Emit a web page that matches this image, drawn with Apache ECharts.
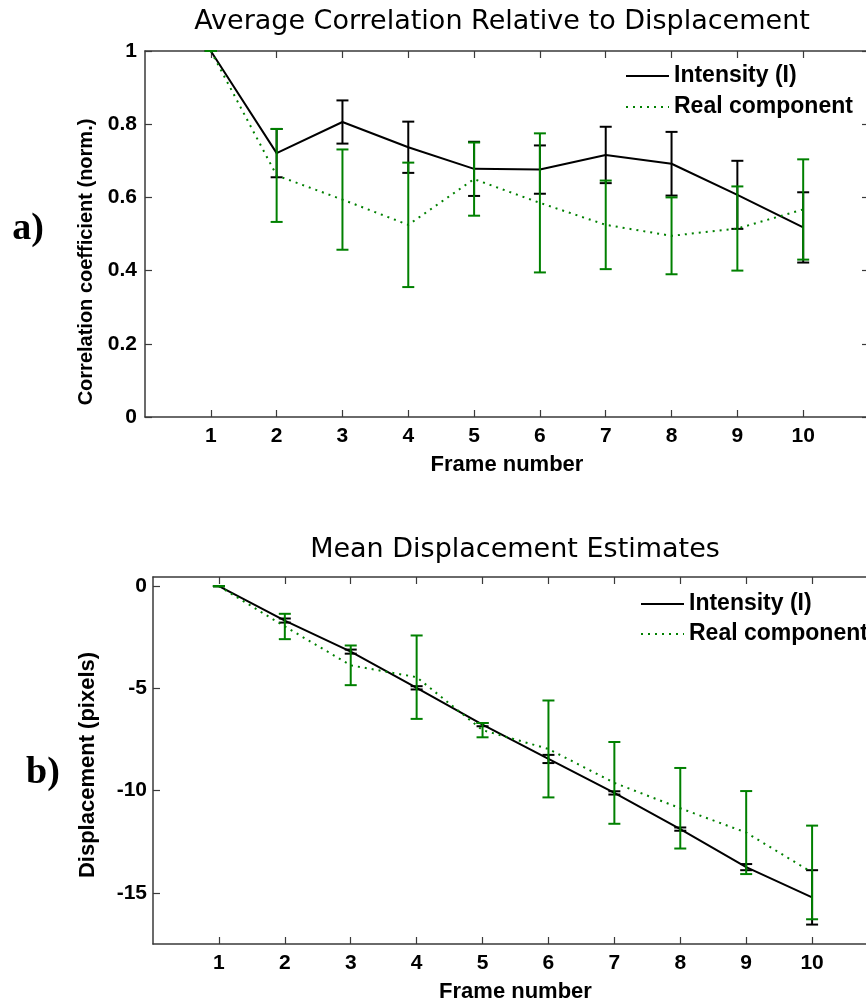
<!DOCTYPE html>
<html>
<head>
<meta charset="utf-8">
<script src="https://cdn.jsdelivr.net/npm/echarts@6/dist/echarts.min.js"></script>
<style>
  html, body { margin: 0; padding: 0; background: #fff; }
  #main { width: 866px; height: 1008px; }
</style>
</head>
<body>
<div id="main"></div>
<script>
const chartDom = document.getElementById('main');
const myChart = echarts.init(chartDom);

// data
const frames = [1, 2, 3, 4, 5, 6, 7, 8, 9, 10];

const corrIntensity = [1.0, 0.721, 0.806, 0.737, 0.678, 0.676, 0.716, 0.692, 0.607, 0.518];
const corrIntensityErr = [0, 0.066, 0.059, 0.070, 0.074, 0.066, 0.077, 0.087, 0.093, 0.096];
const corrReal = [1.0, 0.660, 0.594, 0.525, 0.650, 0.585, 0.525, 0.495, 0.515, 0.567];
const corrRealErr = [0, 0.127, 0.137, 0.170, 0.100, 0.190, 0.121, 0.105, 0.115, 0.137];

const dispIntensity = [0, -1.68, -3.20, -4.97, -6.77, -8.45, -10.11, -11.88, -13.74, -15.22];
const dispIntensityErr = [0, 0.10, 0.10, 0.08, 0.08, 0.20, 0.08, 0.08, 0.15, 1.33];
const dispReal = [0, -1.97, -3.87, -4.45, -7.04, -7.96, -9.62, -10.86, -12.05, -14.00];
const dispRealErr = [0, 0.62, 0.97, 2.04, 0.35, 2.37, 2.00, 1.97, 2.03, 2.29];

const corrTicks = [0, 0.2, 0.4, 0.6, 0.8, 1];
const dispTicks = [-15, -10, -5, 0];

const BLACK = '#000000';
const GREEN = '#008000';
const FONT = 'Liberation Sans';

toPoints = (values) => frames.map((f, i) => [f, values[i]]);
toBars = (values, errs) => frames.map((f, i) => [f, values[i] - errs[i], values[i] + errs[i]]);

errorBarRenderer = (color) => {
    return (params, api) => {
        const x = api.value(0);
        const lo = api.coord([x, api.value(1)]);
        const hi = api.coord([x, api.value(2)]);
        const w = 6;
        const style = { stroke: color, lineWidth: 2, fill: null };
        return {
            type: 'group',
            children: [
                { type: 'line', shape: { x1: lo[0], y1: lo[1], x2: hi[0], y2: hi[1] }, style },
                { type: 'line', shape: { x1: lo[0] - w, y1: lo[1], x2: lo[0] + w, y2: lo[1] }, style },
                { type: 'line', shape: { x1: hi[0] - w, y1: hi[1], x2: hi[0] + w, y2: hi[1] }, style },
            ]
        };
    };
}

const axisLine = { show: true, onZero: false, lineStyle: { color: '#3a3a3a', width: 1.5 } };
const tickStyle = { show: true, inside: true, length: 7, lineStyle: { color: '#3a3a3a', width: 1.2 } };
const labelStyle = { color: '#000', fontFamily: FONT, fontWeight: 'bold', fontSize: 21 };

frameAxis = (gridIndex, bottom) => ({
    gridIndex,
    type: 'value',
    min: 0,
    max: 11,
    position: bottom ? 'bottom' : 'top',
    axisLine,
    axisTick: Object.assign({ customValues: frames }, tickStyle),
    axisLabel: Object.assign({ show: bottom, customValues: frames, margin: 9 }, labelStyle),
    splitLine: { show: false },
    name: bottom ? 'Frame number' : '',
    nameLocation: 'middle',
    nameGap: 37,
    nameTextStyle: { color: '#000', fontFamily: FONT, fontWeight: 'bold', fontSize: 22 },
});

valueAxis = (gridIndex, left, min, max, ticks, margin) => ({
    gridIndex,
    type: 'value',
    min,
    max,
    position: left ? 'left' : 'right',
    axisLine,
    axisTick: Object.assign({ customValues: ticks }, tickStyle),
    axisLabel: Object.assign({ show: left, customValues: ticks, margin }, labelStyle),
    splitLine: { show: false },
});

const legendText = { color: '#000', fontFamily: FONT, fontWeight: 'bold', fontSize: 23, lineHeight: 24 };

myChart.setOption({
    animation: false,
    backgroundColor: '#fff',
    title: [
        {
            text: 'Average Correlation Relative to Displacement',
            left: 502, top: 8, padding: 0, textAlign: 'center',
            textStyle: { fontFamily: 'DejaVu Sans', fontWeight: 'normal', fontSize: 27, color: '#000' }
        },
        {
            text: 'Mean Displacement Estimates',
            left: 515, top: 536, padding: 0, textAlign: 'center',
            textStyle: { fontFamily: 'DejaVu Sans', fontWeight: 'normal', fontSize: 27, color: '#000' }
        }
    ],
    legend: [
        {
            orient: 'vertical', left: 625, top: 64, padding: 0,
            itemWidth: 43, itemHeight: 14, itemGap: 7,
            data: ['Intensity (I)', 'Real component'],
            itemStyle: { opacity: 0 },
            textStyle: legendText,
            selectedMode: false,
        },
        {
            orient: 'vertical', left: 640, top: 592, padding: 0,
            itemWidth: 43, itemHeight: 14, itemGap: 6,
            data: ['Intensity (I)', 'Real component'],
            itemStyle: { opacity: 0 },
            textStyle: legendText,
            selectedMode: false,
        }
    ],
    grid: [
        { left: 145, width: 724, top: 51, height: 366, outerBoundsMode: 'none', containLabel: false },
        { left: 153, width: 725, top: 577, height: 367, outerBoundsMode: 'none', containLabel: false }
    ],
    xAxis: [
        frameAxis(0, true),
        frameAxis(0, false),
        frameAxis(1, true),
        frameAxis(1, false),
    ],
    yAxis: [
        valueAxis(0, true, 0, 1, corrTicks, 8),
        valueAxis(0, false, 0, 1, corrTicks, 8),
        valueAxis(1, true, -17.5, 0.45, dispTicks, 6),
        valueAxis(1, false, -17.5, 0.45, dispTicks, 6),
    ],
    graphic: [
        {
            type: 'text', x: 86, y: 262, rotation: Math.PI / 2,
            style: { text: 'Correlation coefficient (norm.)', fill: '#000', align: 'center', verticalAlign: 'middle',
                font: 'bold 20px "Liberation Sans"' }
        },
        {
            type: 'text', x: 88, y: 765, rotation: Math.PI / 2,
            style: { text: 'Displacement (pixels)', fill: '#000', align: 'center', verticalAlign: 'middle',
                font: 'bold 22px "Liberation Sans"' }
        },
        {
            type: 'text', x: 28, y: 229,
            style: { text: 'a)', fill: '#000', align: 'center', verticalAlign: 'middle',
                font: 'bold 38px "Liberation Serif"' }
        },
        {
            type: 'text', x: 43, y: 773,
            style: { text: 'b)', fill: '#000', align: 'center', verticalAlign: 'middle',
                font: 'bold 38px "Liberation Serif"' }
        }
    ],
    series: [
        {
            name: 'Intensity (I)', type: 'line', xAxisIndex: 0, yAxisIndex: 0,
            data: toPoints(corrIntensity), symbol: 'none',
            lineStyle: { color: BLACK, width: 2 }, itemStyle: { color: BLACK }, z: 3
        },
        {
            type: 'custom', xAxisIndex: 0, yAxisIndex: 0,
            data: toBars(corrIntensity, corrIntensityErr),
            encode: { x: 0, y: [1, 2] }, renderItem: errorBarRenderer(BLACK), z: 3
        },
        {
            name: 'Real component', type: 'line', xAxisIndex: 0, yAxisIndex: 0,
            data: toPoints(corrReal), symbol: 'none',
            lineStyle: { color: GREEN, width: 2, type: [2, 5] }, itemStyle: { color: GREEN }, z: 4
        },
        {
            type: 'custom', xAxisIndex: 0, yAxisIndex: 0,
            data: toBars(corrReal, corrRealErr),
            encode: { x: 0, y: [1, 2] }, renderItem: errorBarRenderer(GREEN), z: 4
        },
        {
            name: 'Intensity (I)', type: 'line', xAxisIndex: 2, yAxisIndex: 2,
            data: toPoints(dispIntensity), symbol: 'none',
            lineStyle: { color: BLACK, width: 2 }, itemStyle: { color: BLACK }, z: 3
        },
        {
            type: 'custom', xAxisIndex: 2, yAxisIndex: 2,
            data: toBars(dispIntensity, dispIntensityErr),
            encode: { x: 0, y: [1, 2] }, renderItem: errorBarRenderer(BLACK), z: 3
        },
        {
            name: 'Real component', type: 'line', xAxisIndex: 2, yAxisIndex: 2,
            data: toPoints(dispReal), symbol: 'none',
            lineStyle: { color: GREEN, width: 2, type: [2, 5] }, itemStyle: { color: GREEN }, z: 4
        },
        {
            type: 'custom', xAxisIndex: 2, yAxisIndex: 2,
            data: toBars(dispReal, dispRealErr),
            encode: { x: 0, y: [1, 2] }, renderItem: errorBarRenderer(GREEN), z: 4
        }
    ]
});

window.addEventListener('resize', () => {
    myChart.resize();
});
</script>
</body>
</html>
